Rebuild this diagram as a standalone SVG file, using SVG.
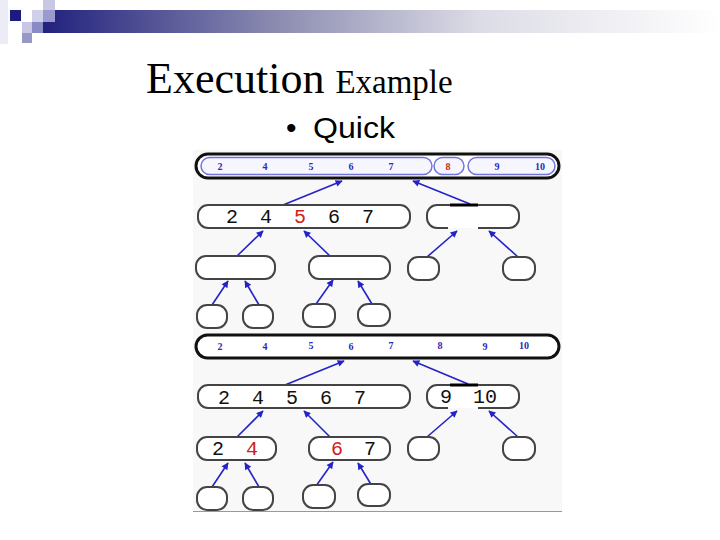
<svg xmlns="http://www.w3.org/2000/svg" width="720" height="540" viewBox="0 0 720 540">
<defs>
<linearGradient id="bar" x1="0" y1="0" x2="1" y2="0">
<stop offset="0" stop-color="#1c1c7c"/>
<stop offset="0.35" stop-color="#8a8ab0"/>
<stop offset="0.65" stop-color="#dcdce6"/>
<stop offset="1" stop-color="#ffffff"/>
</linearGradient>
<marker id="ah" viewBox="0 0 10 10" refX="9" refY="5" markerWidth="10" markerHeight="7" markerUnits="userSpaceOnUse" orient="auto">
<path d="M0,0 L10,5 L0,10 z" fill="#2323c8"/>
</marker>
<style>
.box{fill:#ffffff;stroke:#444;stroke-width:2}
.big{fill:#ffffff;stroke:#111;stroke-width:3}
.inner{fill:#f6f6ff;stroke:#7474dc;stroke-width:1.5}
.arr{stroke:#2323c8;stroke-width:1.6;fill:none;marker-end:url(#ah)}
.sm{font-family:"Liberation Serif",serif;font-weight:bold;font-size:10px;fill:#2a2ab8;text-anchor:middle}
.mono{font-family:"Liberation Mono","DejaVu Sans Mono",monospace;font-size:20px;fill:#111;text-anchor:middle}
.red{fill:#cc2222}
</style>
</defs>
<rect width="720" height="540" fill="#ffffff"/>
<!-- header decoration -->
<rect x="32" y="10" width="688" height="23" fill="url(#bar)"/>
<rect x="0" y="0" width="8" height="44" fill="#ececf6"/>
<rect x="10" y="10" width="11" height="11" fill="#1c1c80"/>
<rect x="43" y="0" width="12" height="10" fill="#c8c8e4"/>
<rect x="32" y="10" width="11" height="12" fill="#d0d0ea"/>
<rect x="43" y="10" width="12" height="12" fill="#9a9ace"/>
<rect x="22" y="22" width="10" height="11" fill="#c8c8e4"/>
<rect x="32" y="22" width="11" height="11" fill="#8a8ac4"/>
<rect x="22" y="33" width="10" height="10" fill="#9898c8"/>
<!-- title -->
<text x="146" y="93" font-family="Liberation Serif,serif" font-size="44" fill="#000">Execution <tspan font-size="33">Example</tspan></text>
<text x="286" y="138" font-family="Liberation Sans,Arial,sans-serif" font-size="30" fill="#000">•</text>
<text x="313" y="138" font-family="Liberation Sans,Arial,sans-serif" font-size="30" fill="#000" textLength="82" lengthAdjust="spacingAndGlyphs">Quick</text>
<!-- picture background -->
<rect x="193" y="150" width="369" height="361" fill="#f8f8f8"/>
<line x1="193" y1="511.5" x2="562" y2="511.5" stroke="#999" stroke-width="1"/>
<g id="connectors">
<line class="arr" x1="283" y1="205" x2="342" y2="181"/>
<line class="arr" x1="470" y1="204" x2="413" y2="181"/>
<line class="arr" x1="237" y1="256" x2="263" y2="231"/>
<line class="arr" x1="330" y1="256" x2="304" y2="231"/>
<line class="arr" x1="427" y1="257" x2="457" y2="231"/>
<line class="arr" x1="518" y1="257" x2="489" y2="231"/>
<line class="arr" x1="212" y1="305" x2="228" y2="281"/>
<line class="arr" x1="259" y1="305" x2="245" y2="281"/>
<line class="arr" x1="316" y1="304" x2="333" y2="280"/>
<line class="arr" x1="372" y1="304" x2="358" y2="281"/>
<line class="arr" x1="285" y1="385" x2="344" y2="361"/>
<line class="arr" x1="468" y1="384" x2="413" y2="361"/>
<line class="arr" x1="237" y1="437" x2="263" y2="411"/>
<line class="arr" x1="330" y1="437" x2="304" y2="411"/>
<line class="arr" x1="427" y1="437" x2="457" y2="411"/>
<line class="arr" x1="518" y1="437" x2="489" y2="411"/>
<line class="arr" x1="212" y1="487" x2="228" y2="463"/>
<line class="arr" x1="259" y1="487" x2="245" y2="463"/>
<line class="arr" x1="316" y1="486" x2="333" y2="462"/>
<line class="arr" x1="372" y1="486" x2="358" y2="463"/>
</g>
<!-- top half -->
<g id="n-top1">
<rect class="big" x="196" y="154" width="363" height="24" rx="12"/>
<rect class="inner" x="201" y="157.5" width="231" height="17" rx="8.5"/>
<rect class="inner" x="434" y="157.5" width="30" height="17" rx="8.5"/>
<rect class="inner" x="468" y="157.5" width="87" height="17" rx="8.5"/>
<text class="sm" x="220" y="170">2</text>
<text class="sm" x="265" y="170">4</text>
<text class="sm" x="311" y="170">5</text>
<text class="sm" x="351" y="170">6</text>
<text class="sm" x="391" y="170">7</text>
<text class="sm red" x="448" y="170">8</text>
<text class="sm" x="497" y="170">9</text>
<text class="sm" x="540" y="170">10</text>
</g>
<g id="n-top2a">
<rect class="box" x="198" y="205" width="212" height="23" rx="10"/>
<text class="mono" x="232" y="223">2</text>
<text class="mono" x="266" y="223">4</text>
<text class="mono red" x="300" y="223">5</text>
<text class="mono" x="334" y="223">6</text>
<text class="mono" x="368" y="223">7</text>
</g>
<g id="n-top2b">
<path class="box" d="M448,228 H437 A10,10 0 0 1 427,218 V215 A10,10 0 0 1 437,205 H509 A10,10 0 0 1 519,215 V218 A10,10 0 0 1 509,228 H478" fill="none"/>
<line x1="450" y1="205" x2="478" y2="205" stroke="#000" stroke-width="3"/>
</g>
<g id="n-top3a"><rect class="box" x="196" y="256" width="79" height="23" rx="10"/></g>
<g id="n-top3b"><rect class="box" x="309" y="256" width="81" height="23" rx="10"/></g>
<g id="n-top3c"><rect class="box" x="408" y="257" width="31" height="23" rx="10"/></g>
<g id="n-top3d"><rect class="box" x="503" y="257" width="32" height="23" rx="10"/></g>
<g id="n-top4a"><rect class="box" x="197" y="305" width="30" height="23" rx="10"/></g>
<g id="n-top4b"><rect class="box" x="243" y="305" width="30" height="23" rx="10"/></g>
<g id="n-top4c"><rect class="box" x="303" y="304" width="32" height="23" rx="10"/></g>
<g id="n-top4d"><rect class="box" x="358" y="304" width="32" height="22" rx="10"/></g>
<!-- bottom half -->
<g id="n-bot1">
<rect class="big" x="196" y="335" width="363" height="23" rx="11.5"/>
<text class="sm" x="220" y="350">2</text>
<text class="sm" x="265" y="350">4</text>
<text class="sm" x="311" y="349">5</text>
<text class="sm" x="351" y="350">6</text>
<text class="sm" x="391" y="349">7</text>
<text class="sm" x="440" y="349">8</text>
<text class="sm" x="485" y="350">9</text>
<text class="sm" x="524" y="349">10</text>
</g>
<g id="n-bot2a">
<rect class="box" x="198" y="385" width="212" height="23" rx="10"/>
<text class="mono" x="224" y="404">2</text>
<text class="mono" x="258" y="404">4</text>
<text class="mono" x="292" y="404">5</text>
<text class="mono" x="326" y="404">6</text>
<text class="mono" x="360" y="404">7</text>
</g>
<g id="n-bot2b">
<path class="box" d="M448,408 H437 A10,10 0 0 1 427,398 V395 A10,10 0 0 1 437,385 H509 A10,10 0 0 1 519,395 V398 A10,10 0 0 1 509,408 H478" fill="none"/>
<line x1="450" y1="385" x2="478" y2="385" stroke="#000" stroke-width="3"/>
<text class="mono" x="446" y="403">9</text>
<text class="mono" x="485" y="403">10</text>
</g>
<g id="n-bot3a">
<rect class="box" x="197" y="437" width="79" height="23" rx="10"/>
<text class="mono" x="218" y="455">2</text>
<text class="mono red" x="252" y="455">4</text>
</g>
<g id="n-bot3b">
<rect class="box" x="309" y="437" width="81" height="23" rx="10"/>
<text class="mono red" x="337" y="455">6</text>
<text class="mono" x="370" y="455">7</text>
</g>
<g id="n-bot3c"><rect class="box" x="408" y="437" width="31" height="23" rx="10"/></g>
<g id="n-bot3d"><rect class="box" x="503" y="437" width="32" height="23" rx="10"/></g>
<g id="n-bot4a"><rect class="box" x="197" y="487" width="30" height="23" rx="10"/></g>
<g id="n-bot4b"><rect class="box" x="243" y="487" width="30" height="23" rx="10"/></g>
<g id="n-bot4c"><rect class="box" x="303" y="485" width="32" height="23" rx="10"/></g>
<g id="n-bot4d"><rect class="box" x="358" y="484" width="32" height="22" rx="10"/></g>
</svg>
